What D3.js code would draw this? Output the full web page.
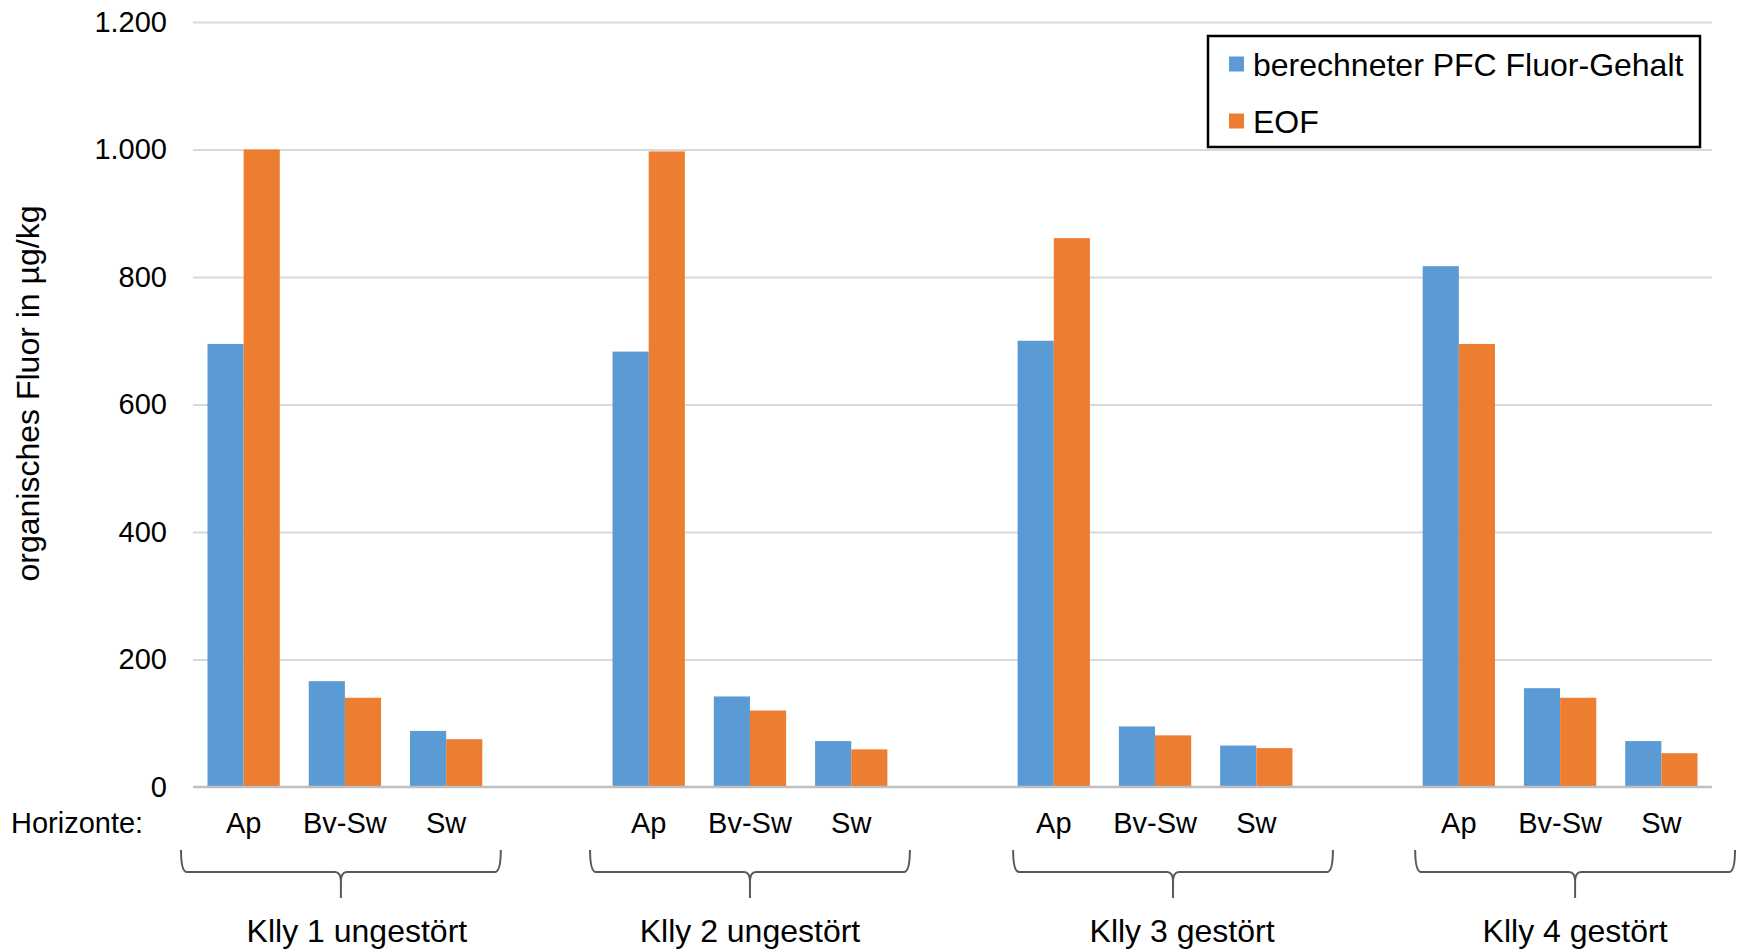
<!DOCTYPE html>
<html lang="de">
<head>
<meta charset="utf-8">
<title>Organisches Fluor in Bodenhorizonten</title>
<script src="https://cdn.jsdelivr.net/npm/d3@7"></script>
<style>
  html, body { margin: 0; padding: 0; background: #fff; }
  svg { display: block; font-family: "Liberation Sans", Arial, Helvetica, sans-serif; }
</style>
</head>
<body>
<svg id="chart" width="1740" height="950"></svg>
<script>
// ---- data ----
const profiles = ["Klly 1 ungestört", "Klly 2 ungestört", "Klly 3 gestört", "Klly 4 gestört"];
const horizons = ["Ap", "Bv-Sw", "Sw"];
const seriesNames = ["berechneter PFC Fluor-Gehalt", "EOF"];
// values per profile, horizons in order Ap, Bv-Sw, Sw (µg/kg)
const pfcFluor = [695, 166, 88, 683, 142, 72, 700, 95, 65, 817, 155, 72];
const eofValues = [1000, 140, 75, 997, 120, 59, 861, 81, 61, 695, 140, 53];
const yTickValues = [0, 200, 400, 600, 800, 1000, 1200];
const yTitle = "organisches Fluor in µg/kg";
const horizonLabel = "Horizonte:";

// ---- layout ----
const W = 1740, H = 950;
const plot = { left: 193, right: 1712, top: 22, bottom: 787 };
const colors = ["#5B9BD5", "#ED7D31"];
const tickFont = 29, bigFont = 32;
// horizontal nudges (px) of the brace and profile caption under each profile
const braceShift = [-4, 0, 18, 15];
const captionShift = [12, 0, 27, 15];

const svg = d3.select("#chart");

// category slots: three horizons per profile, one empty slot between profiles
const slots = [];
profiles.forEach((p, gi) => {
  horizons.forEach(h => slots.push(p + "|" + h));
  if (gi < profiles.length - 1) slots.push("gap" + gi);
});

const rows = [];
profiles.forEach((p, gi) => horizons.forEach((h, hi) => {
  const i = gi * horizons.length + hi;
  rows.push({ slot: p + "|" + h, horizon: h, values: [pfcFluor[i], eofValues[i]] });
}));

const x = d3.scaleBand().domain(slots).range([plot.left, plot.right]);
const bw = x.bandwidth();
const xs = d3.scaleBand().domain(seriesNames).range([bw * 0.143, bw * 0.857]);
const y = d3.scaleLinear().domain([0, 1200]).range([plot.bottom, plot.top]);

const deLocale = d3.formatLocale({ decimal: ",", thousands: ".", grouping: [3], currency: ["", " €"] });
const fmt = deLocale.format(",d");

// ---- y axis with gridlines ----
const yAxis = svg.append("g")
  .attr("transform", `translate(${plot.left},0)`)
  .call(d3.axisLeft(y).tickValues(yTickValues).tickFormat(fmt)
    .tickSize(-(plot.right - plot.left)).tickPadding(26));
yAxis.select(".domain").remove();
yAxis.selectAll(".tick line")
  .attr("stroke", d => d === 0 ? "none" : "#D9D9D9")
  .attr("stroke-width", 2);
yAxis.selectAll(".tick text")
  .attr("font-size", tickFont)
  .attr("fill", "#000")
  .attr("font-family", "Liberation Sans, Arial, sans-serif");

// ---- bars ----
const groupsSel = svg.append("g").selectAll("g")
  .data(rows).join("g")
  .attr("transform", d => `translate(${x(d.slot)},0)`);
groupsSel.selectAll("rect")
  .data(d => d.values.map((v, si) => ({ v, s: seriesNames[si], si })))
  .join("rect")
  .attr("x", d => xs(d.s))
  .attr("width", xs.bandwidth())
  .attr("y", d => y(d.v))
  .attr("height", d => y(0) - y(d.v))
  .attr("fill", d => colors[d.si]);

// ---- baseline ----
svg.append("line")
  .attr("x1", plot.left).attr("x2", plot.right)
  .attr("y1", y(0)).attr("y2", y(0))
  .attr("stroke", "#BFBFBF").attr("stroke-width", 2.5);

// ---- x axis (horizon names) ----
const xAxis = svg.append("g")
  .attr("transform", `translate(0,${plot.bottom})`)
  .call(d3.axisBottom(x).tickValues(rows.map(r => r.slot))
    .tickFormat(s => s.split("|")[1]).tickSize(0).tickPadding(25));
xAxis.select(".domain").remove();
xAxis.selectAll(".tick text")
  .attr("font-size", tickFont)
  .attr("fill", "#000")
  .attr("font-family", "Liberation Sans, Arial, sans-serif");

svg.append("text")
  .attr("x", 11).attr("y", plot.bottom + 46)
  .attr("font-size", tickFont).attr("fill", "#000")
  .text(horizonLabel);

// ---- braces and profile captions ----
const braceTop = 850, braceLine = 872, braceTip = 898;
function bracePath(cx, half) {
  const p = d3.path();
  const L = cx - half, R = cx + half, r = 6;
  p.moveTo(L, braceTop);
  p.quadraticCurveTo(L, braceLine, L + r, braceLine);
  p.lineTo(cx - r, braceLine);
  p.quadraticCurveTo(cx, braceLine, cx, braceLine + r * 1.6);
  p.lineTo(cx, braceTip);
  p.moveTo(R, braceTop);
  p.quadraticCurveTo(R, braceLine, R - r, braceLine);
  p.lineTo(cx + r, braceLine);
  p.quadraticCurveTo(cx, braceLine, cx, braceLine + r * 1.6);
  return p.toString();
}
profiles.forEach((p, gi) => {
  const first = x(p + "|" + horizons[0]);
  const last = x(p + "|" + horizons[horizons.length - 1]) + bw;
  const mid = (first + last) / 2;
  const half = (last - first) / 2 + 8;
  svg.append("path")
    .attr("d", bracePath(mid + braceShift[gi], half))
    .attr("fill", "none").attr("stroke", "#595959").attr("stroke-width", 2);
  svg.append("text")
    .attr("x", mid + captionShift[gi]).attr("y", 942)
    .attr("text-anchor", "middle")
    .attr("font-size", bigFont).attr("fill", "#000")
    .text(p);
});

// ---- y axis title ----
svg.append("text")
  .attr("transform", `translate(39,${(plot.top + plot.bottom) / 2 - 11}) rotate(-90)`)
  .attr("text-anchor", "middle")
  .attr("font-size", bigFont).attr("fill", "#000")
  .text(yTitle);

// ---- legend ----
const legend = svg.append("g");
legend.append("rect")
  .attr("x", 1208).attr("y", 36).attr("width", 492).attr("height", 111)
  .attr("fill", "#fff").attr("stroke", "#000").attr("stroke-width", 2.5);
const legendRows = [64, 121];
seriesNames.forEach((name, i) => {
  legend.append("rect")
    .attr("x", 1229).attr("y", legendRows[i] - 7.5)
    .attr("width", 15).attr("height", 15)
    .attr("fill", colors[i]);
  legend.append("text")
    .attr("x", 1253).attr("y", legendRows[i] + 11.5)
    .attr("font-size", bigFont).attr("fill", "#000")
    .text(name);
});
</script>
</body>
</html>
